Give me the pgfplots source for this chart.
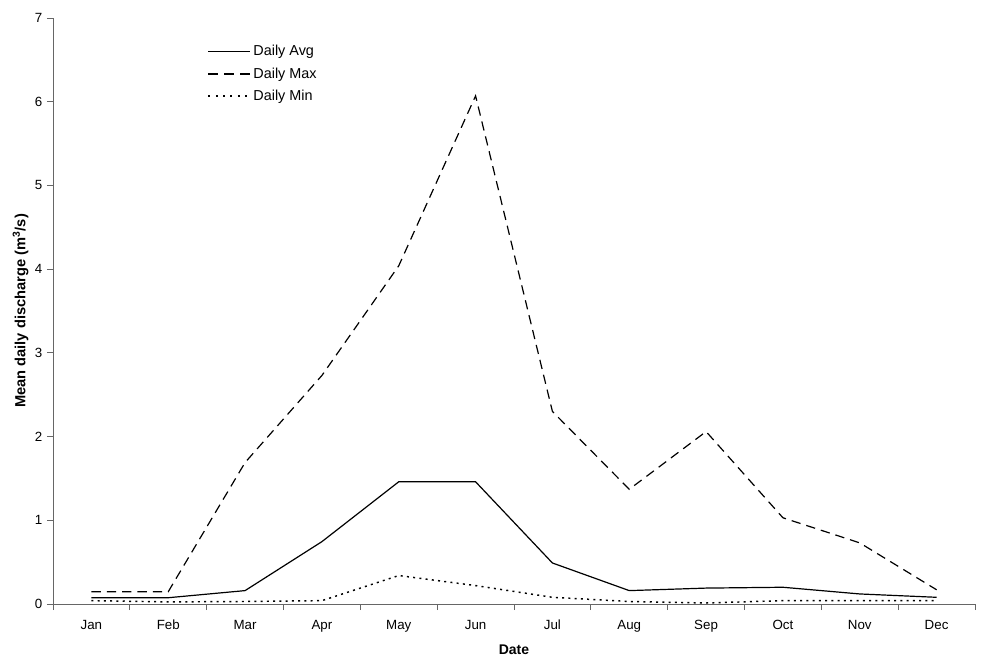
\documentclass[border=0pt]{standalone}
\usepackage{pgfplots}
\pgfplotsset{compat=1.18}
\usepackage{fontspec}
\setmainfont{Liberation Sans}

\pgfplotstableread{
m   avg    max    min
0   0.075  0.147  0.040
1   0.075  0.147  0.025
2   0.160  1.690  0.030
3   0.745  2.730  0.040
4   1.460  4.040  0.340
5   1.460  6.070  0.220
6   0.490  2.300  0.080
7   0.160  1.370  0.030
8   0.190  2.060  0.012
9   0.200  1.030  0.040
10  0.120  0.730  0.040
11  0.080  0.170  0.040
}\discharge

\begin{document}
\begin{tikzpicture}[x=1pt,y=1pt]
  \begin{axis}[
    scale only axis,
    width=691.5pt, height=439.5pt,
    xmin=-0.5, xmax=11.5,
    ymin=0, ymax=7,
    axis lines*=left,
    axis line style={gray!80!black, line width=0.7pt},
    xtick={0,...,11},
    xticklabels={Jan,Feb,Mar,Apr,May,Jun,Jul,Aug,Sep,Oct,Nov,Dec},
    major x tick style={draw=none},
    minor xtick={-0.5,0.5,...,11.5},
    minor tick length=4.5pt,
    major tick length=4.5pt,
    tick align=outside,
    tick style={gray!80!black, line width=0.7pt},
    ytick={0,...,7},
    /pgf/number format/assume math mode=true,
    ticklabel style={font=\fontsize{10}{12}\selectfont},
    xticklabel style={yshift=-4pt},
    xlabel={\textbf{Date}},
    ylabel={\textbf{Mean daily discharge (m\textsuperscript{3}/s)}},
    xlabel style={font=\fontsize{10.5}{12}\selectfont, yshift=-2.5pt},
    ylabel style={font=\fontsize{11}{13}\selectfont, yshift=-2pt},
    legend style={draw=none, fill=none, at={(0.163,0.963)}, anchor=north west,
      font=\fontsize{10.8}{13}\selectfont, row sep=3.5pt,
      /tikz/every even column/.append style={column sep=2pt}},
    legend cell align=left,
    legend image code/.code={\draw[#1] (0pt,0pt) -- (31pt,0pt);},
  ]
    \addplot[black, line width=0.9pt] table[x=m, y=avg] {\discharge};
    \addplot[black, line width=0.9pt, dash pattern=on 7pt off 4.5pt,
      forget plot] table[x=m, y=max] {\discharge};
    \addlegendimage{black, line width=1.4pt, dash pattern=on 7pt off 5pt}
    \addplot[black, line width=1.1pt, dash pattern=on 1.5pt off 3.2pt,
      forget plot] table[x=m, y=min] {\discharge};
    \addlegendimage{black, line width=1.4pt, dash pattern=on 1.5pt off 4pt}
    \legend{Daily Avg, Daily Max, Daily Min}
  \end{axis}
  \pgfresetboundingbox
  \path (current axis.south west) ++(-39.75pt,-50.25pt) coordinate (bl);
  \path (current axis.north east) ++(4.5pt,13.5pt) coordinate (tr);
  \path (bl) rectangle (tr);
\end{tikzpicture}
\end{document}
